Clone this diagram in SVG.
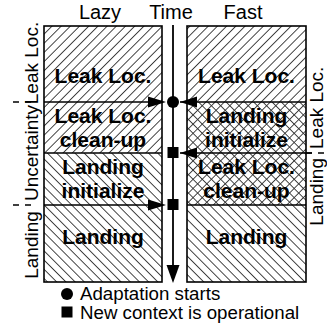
<svg xmlns="http://www.w3.org/2000/svg" width="327" height="326" viewBox="0 0 327 326">
<style>
.t{font-family:"Liberation Sans",Arial,sans-serif;font-size:20px;fill:#000}
.b{font-family:"Liberation Sans",Arial,sans-serif;font-size:21px;font-weight:bold;fill:#000;text-anchor:middle}
.s{font-family:"Liberation Sans",Arial,sans-serif;font-size:19px;fill:#000;text-anchor:middle}
.box{fill:none;stroke:#000;stroke-width:1.6}
.div{stroke:#000;stroke-width:1.6}
.dash{stroke:#000;stroke-width:1.3;stroke-dasharray:6 6}
.lg{font-family:"Liberation Sans",Arial,sans-serif;font-size:18.7px;fill:#000}
</style>
<defs>
<pattern id="fw" patternUnits="userSpaceOnUse" width="6.5" height="6.5" patternTransform="rotate(45)"><rect width="6.5" height="6.5" fill="#fff"/><line x1="3.25" y1="0" x2="3.25" y2="6.5" stroke="#333" stroke-width="0.9"/></pattern>
<pattern id="bk" patternUnits="userSpaceOnUse" width="6.5" height="6.5" patternTransform="rotate(-45)"><rect width="6.5" height="6.5" fill="#fff"/><line x1="3.25" y1="0" x2="3.25" y2="6.5" stroke="#333" stroke-width="0.9"/></pattern>
<pattern id="cx" patternUnits="userSpaceOnUse" width="6.5" height="6.5" patternTransform="rotate(45)"><rect width="6.5" height="6.5" fill="#fff"/><line x1="3.25" y1="0" x2="3.25" y2="6.5" stroke="#333" stroke-width="0.9"/><line x1="0" y1="3.25" x2="6.5" y2="3.25" stroke="#333" stroke-width="0.9"/></pattern>
</defs>
<rect width="327" height="326" fill="#fff"/>
<text class="t" x="100" y="19" text-anchor="middle">Lazy</text>
<text class="t" x="171" y="19" text-anchor="middle">Time</text>
<text class="t" x="243" y="19" text-anchor="middle">Fast</text>
<g id="lazy">
<rect x="44" y="26" width="118" height="76" fill="url(#fw)"/>
<rect x="44" y="102" width="118" height="51" fill="url(#fw)"/>
<rect x="44" y="153" width="118" height="52" fill="url(#bk)"/>
<rect x="44" y="205" width="118" height="77" fill="url(#bk)"/>
<line class="div" x1="44" y1="102" x2="162" y2="102"/>
<line class="div" x1="44" y1="153" x2="162" y2="153"/>
<line class="div" x1="44" y1="205" x2="162" y2="205"/>
<rect class="box" x="44" y="26" width="118" height="256"/>
<text class="b" x="103" y="83">Leak Loc.</text>
<text class="b" x="103" y="123">Leak Loc.</text>
<text class="b" x="103" y="147">clean-up</text>
<text class="b" x="103" y="174">Landing</text>
<text class="b" x="103" y="198">initialize</text>
<text class="b" x="103" y="244">Landing</text>
</g>
<g id="fast">
<rect x="187" y="26" width="119" height="76" fill="url(#fw)"/>
<rect x="187" y="102" width="119" height="103" fill="url(#cx)"/>
<rect x="187" y="205" width="119" height="77" fill="url(#bk)"/>
<line class="div" x1="187" y1="102" x2="306" y2="102"/>
<line class="div" x1="187" y1="153" x2="312" y2="153"/>
<line class="div" x1="187" y1="205" x2="306" y2="205"/>
<rect class="box" x="187" y="26" width="119" height="256"/>
<text class="b" x="246.5" y="83">Leak Loc.</text>
<text class="b" x="246.5" y="123">Landing</text>
<text class="b" x="246.5" y="147">initialize</text>
<text class="b" x="246.5" y="174">Leak Loc.</text>
<text class="b" x="246.5" y="198">clean-up</text>
<text class="b" x="246.5" y="244">Landing</text>
</g>
<g id="side-labels">
<text class="s" transform="translate(38,63) rotate(-90)">Leak Loc.</text>
<text class="s" transform="translate(38,153) rotate(-90)">Uncertainty</text>
<text class="s" transform="translate(38,245) rotate(-90)">Landing</text>
<text class="s" transform="translate(323,149) rotate(-90)" style="text-anchor:start">Leak Loc.</text>
<text class="s" transform="translate(323,158) rotate(-90)" style="text-anchor:end">Landing</text>
<line class="dash" x1="13" y1="102" x2="31" y2="102"/>
<line class="dash" x1="13" y1="205" x2="31" y2="205"/>
<line class="dash" x1="306" y1="153" x2="324" y2="153"/>
</g>
<g id="connectors">
<line x1="173" y1="25" x2="173" y2="268" stroke="#000" stroke-width="1.8"/>
<polygon points="166.5,265 179.5,265 173,283" fill="#000"/>
<polygon points="148,96.5 166,102 148,107.5" fill="#000"/>
<polygon points="197,96.5 180,102 197,107.5" fill="#000"/>
<line x1="180" y1="102" x2="187" y2="102" stroke="#000" stroke-width="1.6"/>
<polygon points="197,147.5 180,153 197,158.5" fill="#000"/>
<line x1="180" y1="153" x2="187" y2="153" stroke="#000" stroke-width="1.6"/>
<polygon points="148,199.5 166,205 148,210.5" fill="#000"/>
</g>
<g id="events">
<circle cx="173" cy="102" r="6" fill="#000"/>
<rect x="167.5" y="147" width="11" height="11" fill="#000"/>
<rect x="167.5" y="199" width="11" height="11" fill="#000"/>
</g>
<g id="legend">
<circle cx="67" cy="294" r="6" fill="#000"/>
<text class="lg" x="80" y="300">Adaptation starts</text>
<rect x="61.5" y="306.5" width="11" height="11" fill="#000"/>
<text class="lg" x="80" y="319">New context is operational</text>
</g>
</svg>
